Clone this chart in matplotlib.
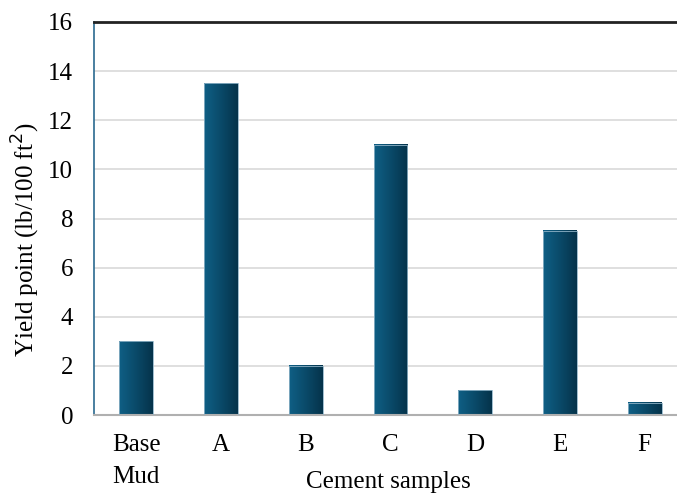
import numpy as np
import matplotlib.pyplot as plt
from matplotlib.colors import LinearSegmentedColormap

plt.rcParams['font.family'] = ['Liberation Serif', 'DejaVu Serif']

samples = ['Base\nMud', 'A', 'B', 'C', 'D', 'E', 'F']
yield_point = [3, 13.5, 2, 11, 1, 7.5, 0.5]

fig = plt.figure(figsize=(6.77, 4.95), dpi=100)
# plot area runs a bit past the right edge of the picture
ax = fig.add_axes([94/677, 80/495, 593/677, 393/495])

x = np.arange(len(samples))
bars = ax.bar(x, yield_point, width=0.4, color='none', edgecolor='#8fb3c7', linewidth=0.6, zorder=3)

cmap = LinearSegmentedColormap.from_list('bar', ['#0f5f85', '#0a4a69', '#05334b'])
grad = np.linspace(0, 1, 64).reshape(1, -1)
for b in bars:
    x0, w, h = b.get_x(), b.get_width(), b.get_height()
    ax.imshow(grad, cmap=cmap, aspect='auto', extent=[x0, x0 + w, 0, h], zorder=2)

ax.set_xlim(-0.5, len(samples) - 0.5)
ax.set_ylim(0, 16)
ax.set_yticks(np.arange(0, 17, 2))
ax.set_xticks(x)
ax.set_xticklabels(samples, fontsize=18, linespacing=1.55)
ax.tick_params(axis='y', labelsize=18, length=0, pad=15)
ax.tick_params(axis='x', length=0, pad=14)

ax.yaxis.grid(True, color='#d9d9d9', linewidth=1.2, zorder=0)
ax.set_axisbelow(True)

ax.spines['top'].set_color('#222222')
ax.spines['top'].set_linewidth(2)
ax.spines['left'].set_color('#2a6a90')
ax.spines['left'].set_linewidth(1.2)
ax.spines['bottom'].set_color('#b0b0b0')
ax.spines['bottom'].set_linewidth(1.5)
ax.spines['right'].set_visible(False)

ax.set_ylabel('Yield point (lb/100 ft$^2$)', fontsize=18)
ax.yaxis.set_label_coords(-(94 - 42) / 593, (415 - 240) / 393)
ax.set_xlabel('Cement samples', fontsize=18)
ax.xaxis.set_label_coords((388 - 94) / 593, -(471 - 415) / 393)

fig.savefig('out.png', dpi=100)
